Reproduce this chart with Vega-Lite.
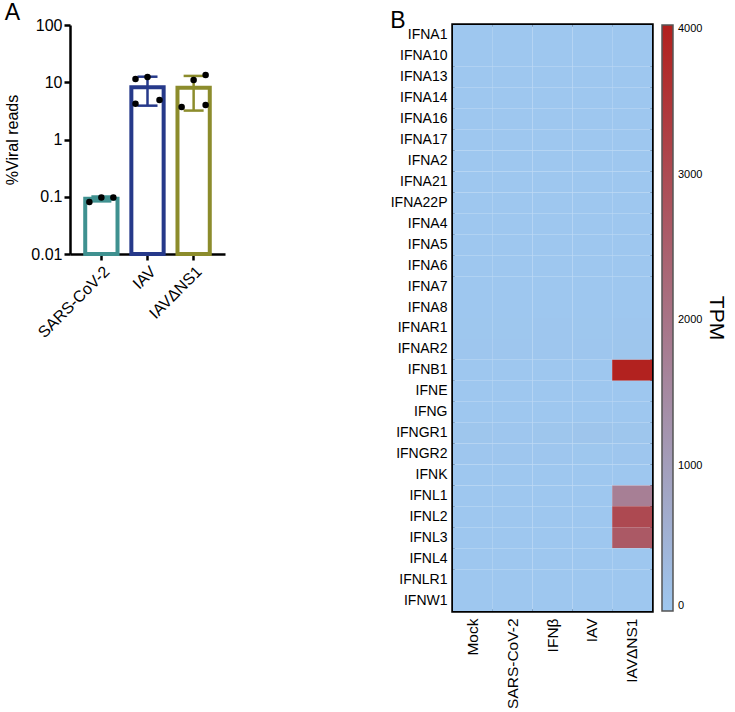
{
  "$schema": "https://vega.github.io/schema/vega-lite/v6.json",
  "padding": {"left": 4, "top": 2, "right": 5, "bottom": 0},
  "config": {
    "font": "Liberation Sans",
    "view": {"stroke": null},
    "axis": {"labelColor": "black", "titleColor": "black", "grid": false},
    "title": {"fontWeight": "normal", "fontSize": 23, "anchor": "start", "frame": "bounds", "color": "black", "offset": -8}
  },
  "datasets": {
    "bars": [
      {"group": "SARS-CoV-2", "mean": 0.092, "lo": 0.083, "hi": 0.101},
      {"group": "IAV", "mean": 8.2, "lo": 3.9, "hi": 12.5},
      {"group": "IAVΔNS1", "mean": 8.0, "lo": 3.2, "hi": 12.9}
    ],
    "points": [
      {"group": "SARS-CoV-2", "pos": "L", "value": 0.081},
      {"group": "SARS-CoV-2", "pos": "C", "value": 0.097},
      {"group": "SARS-CoV-2", "pos": "R", "value": 0.097},
      {"group": "IAV", "pos": "L", "value": 11.4},
      {"group": "IAV", "pos": "C", "value": 12.4},
      {"group": "IAV", "pos": "L", "value": 4.2},
      {"group": "IAV", "pos": "R", "value": 4.9},
      {"group": "IAVΔNS1", "pos": "L", "value": 3.7},
      {"group": "IAVΔNS1", "pos": "C", "value": 10.9},
      {"group": "IAVΔNS1", "pos": "R", "value": 13.4},
      {"group": "IAVΔNS1", "pos": "R", "value": 4.0}
    ],
    "heat": [
      {"gene": "IFNA1", "cond": "Mock", "tpm": 0}, {"gene": "IFNA1", "cond": "SARS-CoV-2", "tpm": 0}, {"gene": "IFNA1", "cond": "IFNβ", "tpm": 0}, {"gene": "IFNA1", "cond": "IAV", "tpm": 0}, {"gene": "IFNA1", "cond": "IAVΔNS1", "tpm": 2},
      {"gene": "IFNA10", "cond": "Mock", "tpm": 0}, {"gene": "IFNA10", "cond": "SARS-CoV-2", "tpm": 0}, {"gene": "IFNA10", "cond": "IFNβ", "tpm": 0}, {"gene": "IFNA10", "cond": "IAV", "tpm": 0}, {"gene": "IFNA10", "cond": "IAVΔNS1", "tpm": 1},
      {"gene": "IFNA13", "cond": "Mock", "tpm": 0}, {"gene": "IFNA13", "cond": "SARS-CoV-2", "tpm": 0}, {"gene": "IFNA13", "cond": "IFNβ", "tpm": 0}, {"gene": "IFNA13", "cond": "IAV", "tpm": 0}, {"gene": "IFNA13", "cond": "IAVΔNS1", "tpm": 1},
      {"gene": "IFNA14", "cond": "Mock", "tpm": 0}, {"gene": "IFNA14", "cond": "SARS-CoV-2", "tpm": 0}, {"gene": "IFNA14", "cond": "IFNβ", "tpm": 0}, {"gene": "IFNA14", "cond": "IAV", "tpm": 0}, {"gene": "IFNA14", "cond": "IAVΔNS1", "tpm": 1},
      {"gene": "IFNA16", "cond": "Mock", "tpm": 0}, {"gene": "IFNA16", "cond": "SARS-CoV-2", "tpm": 0}, {"gene": "IFNA16", "cond": "IFNβ", "tpm": 0}, {"gene": "IFNA16", "cond": "IAV", "tpm": 0}, {"gene": "IFNA16", "cond": "IAVΔNS1", "tpm": 1},
      {"gene": "IFNA17", "cond": "Mock", "tpm": 0}, {"gene": "IFNA17", "cond": "SARS-CoV-2", "tpm": 0}, {"gene": "IFNA17", "cond": "IFNβ", "tpm": 0}, {"gene": "IFNA17", "cond": "IAV", "tpm": 0}, {"gene": "IFNA17", "cond": "IAVΔNS1", "tpm": 1},
      {"gene": "IFNA2", "cond": "Mock", "tpm": 0}, {"gene": "IFNA2", "cond": "SARS-CoV-2", "tpm": 0}, {"gene": "IFNA2", "cond": "IFNβ", "tpm": 0}, {"gene": "IFNA2", "cond": "IAV", "tpm": 0}, {"gene": "IFNA2", "cond": "IAVΔNS1", "tpm": 1},
      {"gene": "IFNA21", "cond": "Mock", "tpm": 0}, {"gene": "IFNA21", "cond": "SARS-CoV-2", "tpm": 0}, {"gene": "IFNA21", "cond": "IFNβ", "tpm": 0}, {"gene": "IFNA21", "cond": "IAV", "tpm": 0}, {"gene": "IFNA21", "cond": "IAVΔNS1", "tpm": 1},
      {"gene": "IFNA22P", "cond": "Mock", "tpm": 0}, {"gene": "IFNA22P", "cond": "SARS-CoV-2", "tpm": 0}, {"gene": "IFNA22P", "cond": "IFNβ", "tpm": 0}, {"gene": "IFNA22P", "cond": "IAV", "tpm": 0}, {"gene": "IFNA22P", "cond": "IAVΔNS1", "tpm": 0},
      {"gene": "IFNA4", "cond": "Mock", "tpm": 0}, {"gene": "IFNA4", "cond": "SARS-CoV-2", "tpm": 0}, {"gene": "IFNA4", "cond": "IFNβ", "tpm": 0}, {"gene": "IFNA4", "cond": "IAV", "tpm": 0}, {"gene": "IFNA4", "cond": "IAVΔNS1", "tpm": 1},
      {"gene": "IFNA5", "cond": "Mock", "tpm": 0}, {"gene": "IFNA5", "cond": "SARS-CoV-2", "tpm": 0}, {"gene": "IFNA5", "cond": "IFNβ", "tpm": 0}, {"gene": "IFNA5", "cond": "IAV", "tpm": 0}, {"gene": "IFNA5", "cond": "IAVΔNS1", "tpm": 0},
      {"gene": "IFNA6", "cond": "Mock", "tpm": 0}, {"gene": "IFNA6", "cond": "SARS-CoV-2", "tpm": 0}, {"gene": "IFNA6", "cond": "IFNβ", "tpm": 0}, {"gene": "IFNA6", "cond": "IAV", "tpm": 0}, {"gene": "IFNA6", "cond": "IAVΔNS1", "tpm": 1},
      {"gene": "IFNA7", "cond": "Mock", "tpm": 0}, {"gene": "IFNA7", "cond": "SARS-CoV-2", "tpm": 0}, {"gene": "IFNA7", "cond": "IFNβ", "tpm": 0}, {"gene": "IFNA7", "cond": "IAV", "tpm": 0}, {"gene": "IFNA7", "cond": "IAVΔNS1", "tpm": 0},
      {"gene": "IFNA8", "cond": "Mock", "tpm": 0}, {"gene": "IFNA8", "cond": "SARS-CoV-2", "tpm": 0}, {"gene": "IFNA8", "cond": "IFNβ", "tpm": 0}, {"gene": "IFNA8", "cond": "IAV", "tpm": 0}, {"gene": "IFNA8", "cond": "IAVΔNS1", "tpm": 1},
      {"gene": "IFNAR1", "cond": "Mock", "tpm": 12}, {"gene": "IFNAR1", "cond": "SARS-CoV-2", "tpm": 11}, {"gene": "IFNAR1", "cond": "IFNβ", "tpm": 13}, {"gene": "IFNAR1", "cond": "IAV", "tpm": 10}, {"gene": "IFNAR1", "cond": "IAVΔNS1", "tpm": 14},
      {"gene": "IFNAR2", "cond": "Mock", "tpm": 18}, {"gene": "IFNAR2", "cond": "SARS-CoV-2", "tpm": 17}, {"gene": "IFNAR2", "cond": "IFNβ", "tpm": 25}, {"gene": "IFNAR2", "cond": "IAV", "tpm": 22}, {"gene": "IFNAR2", "cond": "IAVΔNS1", "tpm": 30},
      {"gene": "IFNB1", "cond": "Mock", "tpm": 0}, {"gene": "IFNB1", "cond": "SARS-CoV-2", "tpm": 1}, {"gene": "IFNB1", "cond": "IFNβ", "tpm": 0}, {"gene": "IFNB1", "cond": "IAV", "tpm": 3}, {"gene": "IFNB1", "cond": "IAVΔNS1", "tpm": 3990},
      {"gene": "IFNE", "cond": "Mock", "tpm": 0}, {"gene": "IFNE", "cond": "SARS-CoV-2", "tpm": 0}, {"gene": "IFNE", "cond": "IFNβ", "tpm": 0}, {"gene": "IFNE", "cond": "IAV", "tpm": 0}, {"gene": "IFNE", "cond": "IAVΔNS1", "tpm": 0},
      {"gene": "IFNG", "cond": "Mock", "tpm": 0}, {"gene": "IFNG", "cond": "SARS-CoV-2", "tpm": 0}, {"gene": "IFNG", "cond": "IFNβ", "tpm": 0}, {"gene": "IFNG", "cond": "IAV", "tpm": 0}, {"gene": "IFNG", "cond": "IAVΔNS1", "tpm": 0},
      {"gene": "IFNGR1", "cond": "Mock", "tpm": 30}, {"gene": "IFNGR1", "cond": "SARS-CoV-2", "tpm": 28}, {"gene": "IFNGR1", "cond": "IFNβ", "tpm": 32}, {"gene": "IFNGR1", "cond": "IAV", "tpm": 60}, {"gene": "IFNGR1", "cond": "IAVΔNS1", "tpm": 35},
      {"gene": "IFNGR2", "cond": "Mock", "tpm": 15}, {"gene": "IFNGR2", "cond": "SARS-CoV-2", "tpm": 14}, {"gene": "IFNGR2", "cond": "IFNβ", "tpm": 16}, {"gene": "IFNGR2", "cond": "IAV", "tpm": 12}, {"gene": "IFNGR2", "cond": "IAVΔNS1", "tpm": 18},
      {"gene": "IFNK", "cond": "Mock", "tpm": 0}, {"gene": "IFNK", "cond": "SARS-CoV-2", "tpm": 0}, {"gene": "IFNK", "cond": "IFNβ", "tpm": 0}, {"gene": "IFNK", "cond": "IAV", "tpm": 0}, {"gene": "IFNK", "cond": "IAVΔNS1", "tpm": 0},
      {"gene": "IFNL1", "cond": "Mock", "tpm": 0}, {"gene": "IFNL1", "cond": "SARS-CoV-2", "tpm": 0}, {"gene": "IFNL1", "cond": "IFNβ", "tpm": 0}, {"gene": "IFNL1", "cond": "IAV", "tpm": 1}, {"gene": "IFNL1", "cond": "IAVΔNS1", "tpm": 1730},
      {"gene": "IFNL2", "cond": "Mock", "tpm": 0}, {"gene": "IFNL2", "cond": "SARS-CoV-2", "tpm": 0}, {"gene": "IFNL2", "cond": "IFNβ", "tpm": 0}, {"gene": "IFNL2", "cond": "IAV", "tpm": 1}, {"gene": "IFNL2", "cond": "IAVΔNS1", "tpm": 3030},
      {"gene": "IFNL3", "cond": "Mock", "tpm": 0}, {"gene": "IFNL3", "cond": "SARS-CoV-2", "tpm": 0}, {"gene": "IFNL3", "cond": "IFNβ", "tpm": 0}, {"gene": "IFNL3", "cond": "IAV", "tpm": 1}, {"gene": "IFNL3", "cond": "IAVΔNS1", "tpm": 2650},
      {"gene": "IFNL4", "cond": "Mock", "tpm": 0}, {"gene": "IFNL4", "cond": "SARS-CoV-2", "tpm": 0}, {"gene": "IFNL4", "cond": "IFNβ", "tpm": 0}, {"gene": "IFNL4", "cond": "IAV", "tpm": 0}, {"gene": "IFNL4", "cond": "IAVΔNS1", "tpm": 2},
      {"gene": "IFNLR1", "cond": "Mock", "tpm": 2}, {"gene": "IFNLR1", "cond": "SARS-CoV-2", "tpm": 2}, {"gene": "IFNLR1", "cond": "IFNβ", "tpm": 3}, {"gene": "IFNLR1", "cond": "IAV", "tpm": 2}, {"gene": "IFNLR1", "cond": "IAVΔNS1", "tpm": 4},
      {"gene": "IFNW1", "cond": "Mock", "tpm": 0}, {"gene": "IFNW1", "cond": "SARS-CoV-2", "tpm": 0}, {"gene": "IFNW1", "cond": "IFNβ", "tpm": 0}, {"gene": "IFNW1", "cond": "IAV", "tpm": 0}, {"gene": "IFNW1", "cond": "IAVΔNS1", "tpm": 1}
    ]
  },
  "spacing": 163,
  "hconcat": [
    {
      "title": {"text": "A"},
      "width": 155,
      "height": 229,
      "data": {"name": "bars"},
      "layer": [
        {
          "mark": {"type": "bar", "fill": "white", "strokeWidth": 4},
          "encoding": {
            "x": {"field": "group", "type": "nominal", "scale": {"domain": ["SARS-CoV-2", "IAV", "IAVΔNS1"], "paddingInner": 0.3, "paddingOuter": 0.33},
              "axis": {"title": null, "labelAngle": -45, "labelFontSize": 16, "domainColor": "black", "domainWidth": 2.5, "tickColor": "black", "tickWidth": 2.5, "tickSize": 6, "labelPadding": 3}},
            "y": {"field": "mean", "type": "quantitative", "scale": {"type": "log", "domain": [0.01, 100]},
              "axis": {"title": "%Viral reads", "titleFontSize": 16, "titleFontWeight": "normal", "labelFontSize": 16, "values": [0.01, 0.1, 1, 10, 100], "format": "~g", "domainColor": "black", "domainWidth": 2.5, "tickColor": "black", "tickWidth": 2.5, "tickSize": 6, "labelPadding": 2, "titlePadding": 10}},
            "y2": {"datum": 0.01},
            "stroke": {"field": "group", "type": "nominal", "scale": {"domain": ["SARS-CoV-2", "IAV", "IAVΔNS1"], "range": ["#3F9190", "#26398A", "#8C8C2C"]}, "legend": null}
          }
        },
        {
          "mark": {"type": "rule", "strokeWidth": 2.5},
          "encoding": {
            "x": {"field": "group", "type": "nominal"},
            "y": {"field": "lo", "type": "quantitative"},
            "y2": {"field": "hi"},
            "color": {"field": "group", "type": "nominal", "scale": {"domain": ["SARS-CoV-2", "IAV", "IAVΔNS1"], "range": ["#3F9190", "#26398A", "#8C8C2C"]}, "legend": null}
          }
        },
        {
          "mark": {"type": "tick", "thickness": 2.5, "size": 20, "opacity": 1},
          "encoding": {
            "x": {"field": "group", "type": "nominal"},
            "y": {"field": "hi", "type": "quantitative"},
            "color": {"field": "group", "type": "nominal", "legend": null}
          }
        },
        {
          "mark": {"type": "tick", "thickness": 2.5, "size": 20, "opacity": 1},
          "encoding": {
            "x": {"field": "group", "type": "nominal"},
            "y": {"field": "lo", "type": "quantitative"},
            "color": {"field": "group", "type": "nominal", "legend": null}
          }
        },
        {
          "data": {"name": "points"},
          "transform": [{"filter": {"field": "pos", "equal": "L"}}],
          "mark": {"type": "circle", "size": 42, "color": "black", "opacity": 1, "xOffset": -12},
          "encoding": {
            "x": {"field": "group", "type": "nominal"},
            "y": {"field": "value", "type": "quantitative"}
          }
        },
        {
          "data": {"name": "points"},
          "transform": [{"filter": {"field": "pos", "equal": "C"}}],
          "mark": {"type": "circle", "size": 42, "color": "black", "opacity": 1},
          "encoding": {
            "x": {"field": "group", "type": "nominal"},
            "y": {"field": "value", "type": "quantitative"}
          }
        },
        {
          "data": {"name": "points"},
          "transform": [{"filter": {"field": "pos", "equal": "R"}}],
          "mark": {"type": "circle", "size": 42, "color": "black", "opacity": 1, "xOffset": 12},
          "encoding": {
            "x": {"field": "group", "type": "nominal"},
            "y": {"field": "value", "type": "quantitative"}
          }
        }
      ]
    },
    {
      "title": {"text": "B"},
      "width": 199,
      "height": 586,
      "view": {"stroke": "black", "strokeWidth": 3.5},
      "data": {"name": "heat"},
      "mark": {"type": "rect"},
      "encoding": {
        "x": {"field": "cond", "type": "nominal", "scale": {"domain": ["Mock", "SARS-CoV-2", "IFNβ", "IAV", "IAVΔNS1"], "paddingInner": 0, "paddingOuter": 0},
          "axis": {"title": null, "labelAngle": -90, "labelAlign": "right", "labelBaseline": "middle", "labelFontSize": 15.5, "ticks": false, "domain": false, "labelPadding": 7}},
        "y": {"field": "gene", "type": "nominal", "scale": {"domain": ["IFNA1", "IFNA10", "IFNA13", "IFNA14", "IFNA16", "IFNA17", "IFNA2", "IFNA21", "IFNA22P", "IFNA4", "IFNA5", "IFNA6", "IFNA7", "IFNA8", "IFNAR1", "IFNAR2", "IFNB1", "IFNE", "IFNG", "IFNGR1", "IFNGR2", "IFNK", "IFNL1", "IFNL2", "IFNL3", "IFNL4", "IFNLR1", "IFNW1"], "paddingInner": 0, "paddingOuter": 0},
          "axis": {"title": null, "ticks": false, "domain": false, "labelFontSize": 14, "labelPadding": 6}},
        "color": {"field": "tpm", "type": "quantitative", "scale": {"domain": [0, 4030], "range": ["#9EC7EF", "#B2201D"], "interpolate": "rgb"},
          "legend": {"title": "TPM", "titleOrient": "right", "titleAngle": 90, "titleFontSize": 21, "titleFontWeight": "normal", "titleAnchor": "middle", "titleColor": "black", "titlePadding": 4, "gradientLength": 586, "gradientThickness": 11, "gradientStrokeColor": "#555", "gradientStrokeWidth": 1.5, "labelFontSize": 11, "labelColor": "black", "format": "d", "values": [0, 1000, 2000, 3000, 4000], "offset": 10, "labelOffset": 5}}
      }
    }
  ]
}
